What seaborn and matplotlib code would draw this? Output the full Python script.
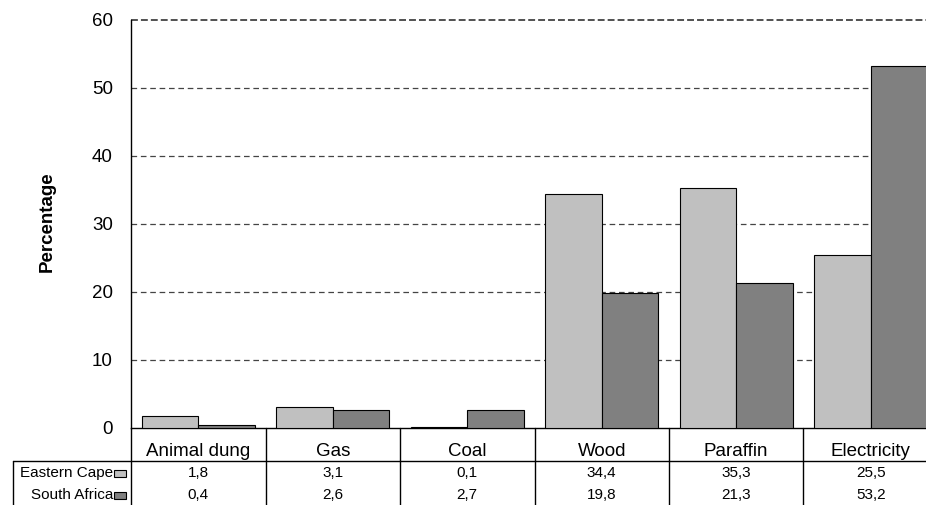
import matplotlib
matplotlib.use("Agg")
import matplotlib.pyplot as plt
import matplotlib.transforms as mtransforms
from matplotlib.patches import Rectangle
from matplotlib.lines import Line2D
import seaborn as sns
import pandas as pd

# Household energy source shares (%)
categories = ["Animal dung", "Gas", "Coal", "Wood", "Paraffin", "Electricity"]
series_names = ["Eastern Cape", "South Africa"]
eastern_cape = [1.8, 3.1, 0.1, 34.4, 35.3, 25.5]
south_africa = [0.4, 2.6, 2.7, 19.8, 21.3, 53.2]
y_ticks = [0, 10, 20, 30, 40, 50, 60]

colors = ["#C0C0C0", "#808080"]

df = pd.DataFrame({
    "Fuel": categories * 2,
    "Region": [series_names[0]] * len(categories) + [series_names[1]] * len(categories),
    "Percentage": eastern_cape + south_africa,
})

sns.set_style("white")
plt.rcParams["font.family"] = ["Liberation Sans", "DejaVu Sans"]
plt.rcParams["text.color"] = "black"
plt.rcParams["ytick.color"] = "black"
plt.rcParams["ytick.labelcolor"] = "black"
plt.rcParams["axes.labelcolor"] = "black"

W, H = 926, 505
fig = plt.figure(figsize=(W / 100, H / 100), dpi=100)

# axes box in pixel terms (right edge runs past the canvas)
ax_left, ax_right, ax_top, ax_bottom = 131, 938, 20, 428
ax = fig.add_axes([ax_left / W, 1 - ax_bottom / H,
                   (ax_right - ax_left) / W, (ax_bottom - ax_top) / H])

sns.barplot(data=df, x="Fuel", y="Percentage", hue="Region",
            palette=colors, edgecolor="black", linewidth=0.8,
            width=0.84, gap=0, ax=ax, legend=False, zorder=3)

ax.set_xlim(-0.5, len(categories) - 0.5)
ax.set_ylim(0, 60)
ax.set_yticks(y_ticks)
ax.set_yticklabels([str(t) for t in y_ticks], fontsize=13.5, color="black")
ax.tick_params(axis="y", length=0, pad=13)
ax.set_xticks([])
ax.set_xlabel("")
ax.set_ylabel("")

for t in y_ticks[1:-1]:
    ax.axhline(t, color="#444444", linestyle=(0, (4.5, 3)), linewidth=0.9, zorder=1)
ax.axhline(60, color="#222222", linestyle=(0, (4.5, 2)), linewidth=1.1, zorder=1,
           clip_on=False)

for side in ["top", "right"]:
    ax.spines[side].set_visible(False)
ax.spines["left"].set_color("black")
ax.spines["bottom"].set_color("black")
ax.spines["left"].set_linewidth(1.0)
ax.spines["bottom"].set_linewidth(1.0)

fig.text(47 / W, 1 - 222 / H, "Percentage", rotation=90, fontsize=13.5,
         fontweight="bold", ha="center", va="center", color="black")

# data table under the plot
def fy(py):
    return 1 - py / H

blend = mtransforms.blended_transform_factory(ax.transData, fig.transFigure)
line_kw = dict(color="black", linewidth=1.0)

row_line = 461
for i in range(len(categories) + 1):
    x = i - 0.5
    fig.add_artist(Line2D([x, x], [fy(ax_bottom), fy(H + 2)], transform=blend, **line_kw))
fig.add_artist(Line2D([13 / W, 1.05], [fy(row_line), fy(row_line)],
                      transform=fig.transFigure, **line_kw))
fig.add_artist(Line2D([13 / W, 13 / W], [fy(row_line), fy(H + 2)],
                      transform=fig.transFigure, **line_kw))

for i, name in enumerate(categories):
    fig.text(i, fy(451), name, transform=blend, fontsize=13.5,
             ha="center", va="center", color="black")

row_y = [473, 495]
for vals, yy in zip([eastern_cape, south_africa], row_y):
    for i, v in enumerate(vals):
        fig.text(i, fy(yy), f"{v:.1f}".replace(".", ","), transform=blend,
                 fontsize=11, ha="center", va="center", color="black")

for name, col, yy in zip(series_names, colors, row_y):
    fig.text(113 / W, fy(yy), name, fontsize=11, ha="right", va="center",
             color="black")
    fig.add_artist(Rectangle((114 / W, fy(yy + 3.5)), 12 / W, 7 / H,
                             transform=fig.transFigure, facecolor=col,
                             edgecolor="black", linewidth=0.8))

fig.savefig("out.png", dpi=100)
